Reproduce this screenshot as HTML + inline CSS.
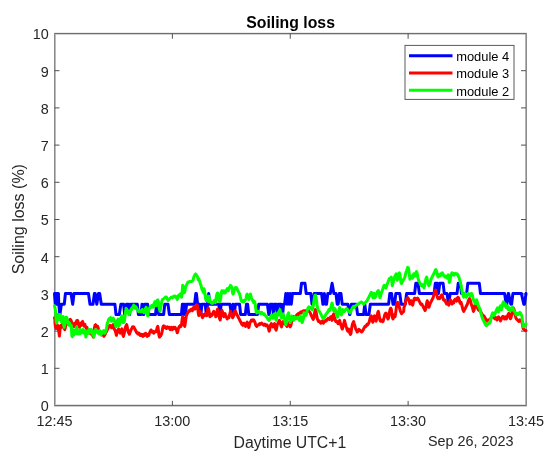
<!DOCTYPE html><html><head><meta charset="utf-8"><style>html,body{margin:0;padding:0;background:#fff;overflow:hidden}svg{display:block;will-change:transform}</style></head><body><svg width="550" height="463" viewBox="0 0 550 463">
<defs><filter id="b" x="0" y="0" width="1" height="1"><feGaussianBlur stdDeviation="0.4"/></filter></defs>
<rect width="550" height="463" fill="#fff"/>
<g filter="url(#b)">
<rect x="54" y="33" width="473" height="1" fill="#6e6e6e"/>
<rect x="54" y="34" width="473" height="1" fill="#d2d2d2"/>
<rect x="54" y="32" width="473" height="1" fill="#ececec"/>
<rect x="54" y="405" width="473" height="1" fill="#6e6e6e"/>
<rect x="54" y="406" width="473" height="1" fill="#cfcfcf"/>
<rect x="54" y="404" width="473" height="1" fill="#e2e2e2"/>
<rect x="54" y="33" width="1" height="373" fill="#888888"/>
<rect x="55" y="34" width="1" height="371" fill="#bcbcbc"/>
<rect x="526" y="33" width="1" height="373" fill="#8c8c8c"/>
<rect x="525" y="34" width="1" height="371" fill="#b4b4b4"/>
<path d="M54.5,368.30h5.0M526.0,368.30h-5.0M54.5,331.10h5.0M526.0,331.10h-5.0M54.5,293.90h5.0M526.0,293.90h-5.0M54.5,256.70h5.0M526.0,256.70h-5.0M54.5,219.50h5.0M526.0,219.50h-5.0M54.5,182.30h5.0M526.0,182.30h-5.0M54.5,145.10h5.0M526.0,145.10h-5.0M54.5,107.90h5.0M526.0,107.90h-5.0M54.5,70.70h5.0M526.0,70.70h-5.0M172.38,405.5v-4.6M172.38,33.5v5.2M290.25,405.5v-4.6M290.25,33.5v5.2M408.12,405.5v-4.6M408.12,33.5v5.2" stroke="#505050" stroke-width="1" fill="none"/>
<polyline points="54.50,293.60 55.25,304.20 55.60,293.60 55.95,304.20 56.30,293.60 56.65,304.20 57.00,293.60 57.35,304.20 57.70,293.60 58.05,304.20 58.40,293.60 58.75,304.20 59.90,314.50 61.40,304.20 64.30,304.20 65.40,293.60 71.00,293.60 72.70,304.20 74.00,293.60 88.50,293.60 90.00,304.20 93.00,304.20 94.40,293.60 95.20,293.60 96.80,304.20 98.50,293.60 99.70,293.60 101.30,304.20 114.90,304.20 116.00,314.50 119.30,314.50 120.90,304.20 123.60,304.20 124.70,314.50 126.40,304.20 128.50,304.20 129.60,314.50 130.70,304.20 137.30,304.20 138.40,314.50 141.00,314.50 142.00,304.20 142.20,304.20 143.20,314.50 143.80,314.50 144.80,304.20 147.60,304.20 148.80,314.50 155.50,314.50 156.60,304.20 157.60,304.20 158.80,314.50 163.60,314.50 164.80,304.20 168.00,304.20 169.40,314.50 181.40,314.50 182.40,304.20 183.00,314.50 183.60,304.20 184.20,314.50 184.80,304.20 185.40,314.50 186.60,304.20 194.60,304.20 195.80,293.60 196.40,293.60 197.60,304.20 199.60,304.20 200.80,314.50 202.00,304.20 205.20,304.20 206.30,314.50 207.60,304.20 208.70,293.60 209.80,304.20 218.80,304.20 220.00,314.50 221.20,304.20 229.90,304.20 231.50,314.50 233.00,304.20 234.20,314.50 235.40,304.20 239.50,304.20 240.70,314.50 245.30,314.50 246.50,304.20 247.60,304.20 248.80,314.50 257.40,314.50 258.80,304.20 267.40,304.20 268.80,314.50 269.20,314.50 270.40,304.20 272.40,304.20 273.40,314.50 274.40,304.20 276.40,304.20 277.40,314.50 278.40,304.20 281.00,304.20 282.20,314.50 282.60,314.50 283.60,304.20 284.60,304.20 285.80,293.60 286.90,304.20 288.00,293.60 289.10,304.20 290.20,293.60 291.30,304.20 292.40,293.60 293.40,293.60 300.30,293.60 301.50,283.30 305.00,283.30 306.20,293.60 310.80,293.60 312.00,304.20 313.00,304.20 314.20,293.60 321.60,293.60 322.90,304.20 323.30,304.20 324.40,293.60 325.90,304.20 326.50,304.20 327.80,293.60 330.30,293.60 332.10,283.30 333.90,293.60 336.00,293.60 337.20,304.20 338.20,304.20 339.20,293.60 341.00,293.60 342.20,304.20 347.80,304.20 349.60,314.50 349.90,314.50 351.30,304.20 356.20,304.20 357.60,314.50 363.60,314.50 364.80,304.20 366.00,314.50 368.90,314.50 370.30,304.20 388.60,304.20 389.80,293.60 391.60,293.60 393.00,304.20 394.60,304.20 395.80,293.60 399.80,293.60 401.20,304.20 405.20,304.20 406.60,293.60 414.60,293.60 415.80,283.30 418.00,283.30 419.40,293.60 434.10,293.60 435.30,283.30 437.20,283.30 438.40,293.60 439.80,283.30 443.10,283.30 444.30,293.60 447.00,293.60 448.60,304.20 450.20,293.60 457.00,293.60 458.20,283.30 460.30,283.30 461.50,293.60 466.60,293.60 467.80,283.30 479.30,283.30 480.50,293.60 504.60,293.60 506.20,304.20 506.80,304.20 508.20,293.60 508.60,293.60 510.80,304.20 511.60,304.20 512.90,293.60 521.40,293.60 523.80,304.20 524.40,304.20 526.00,293.60" fill="none" stroke="#0000ff" stroke-width="3.0" stroke-linejoin="round" stroke-linecap="round"/>
<polyline points="54.50,317.68 54.90,319.84 55.08,324.16 55.62,327.40 56.16,328.48 56.70,326.32 57.24,327.40 57.78,325.24 58.32,327.40 58.86,331.72 59.40,336.04 59.94,330.64 60.48,326.32 61.02,325.24 61.56,327.40 62.10,326.32 62.64,324.16 63.18,325.24 63.72,327.40 64.26,328.48 64.80,329.56 65.34,327.40 65.88,324.16 66.42,322.00 66.96,320.92 67.50,323.08 68.04,324.16 68.58,322.00 69.12,320.92 69.66,319.84 70.20,319.30 70.74,319.84 71.28,320.92 71.82,323.08 72.36,323.08 72.90,324.16 73.44,325.24 73.98,326.32 74.52,324.16 75.06,323.08 75.60,326.32 76.14,323.08 76.68,320.92 77.22,320.38 77.76,320.92 78.30,323.08 78.84,325.24 79.38,327.40 79.92,326.32 80.46,324.16 81.00,323.08 81.54,325.24 82.08,322.00 82.62,321.46 83.16,323.08 83.70,324.16 84.24,326.32 84.78,324.16 85.32,326.32 85.86,327.40 86.40,328.48 86.94,327.40 87.48,329.56 88.02,330.64 88.56,331.72 89.10,332.80 89.64,331.72 90.18,332.80 90.72,333.88 91.26,332.80 91.80,331.72 92.34,333.88 92.88,336.04 93.42,337.12 93.96,333.88 94.50,327.40 95.04,325.24 95.58,324.70 96.12,325.78 96.66,326.32 97.20,327.40 97.74,326.32 98.28,328.48 98.82,330.64 99.36,331.72 99.90,332.80 100.44,333.88 100.98,332.80 101.52,333.88 102.06,334.96 102.60,334.42 103.14,333.88 103.68,332.80 104.00,336.44 104.54,335.36 105.08,334.28 105.62,333.20 106.16,332.12 106.70,331.04 107.24,329.96 107.78,328.88 108.32,327.80 108.86,326.72 109.40,325.64 109.94,326.72 110.48,325.64 111.02,326.72 111.56,327.80 112.10,326.72 112.64,325.64 113.18,324.56 113.72,326.72 114.26,328.88 114.80,329.96 115.34,331.04 115.88,333.20 116.42,335.36 116.96,333.20 117.50,331.04 118.04,329.96 118.58,328.88 119.12,329.96 119.66,332.12 120.20,333.20 120.74,331.04 121.28,329.96 121.82,328.88 122.36,332.12 122.90,335.36 123.44,336.44 123.98,334.28 124.52,332.12 125.06,328.88 125.60,326.72 126.14,325.64 126.68,324.56 127.22,326.72 127.76,329.96 128.30,332.12 128.84,333.20 129.38,334.28 129.92,333.20 130.46,331.04 131.00,329.96 131.54,328.88 132.08,327.80 132.62,326.72 133.16,327.26 133.70,326.72 134.24,327.80 134.78,328.88 135.32,329.96 135.86,331.04 136.40,332.12 136.94,333.20 137.48,332.66 138.02,333.20 138.56,334.28 139.10,333.20 139.64,334.28 140.18,335.36 140.72,334.28 141.26,335.36 141.80,334.28 142.34,335.36 142.88,336.44 143.42,335.36 143.96,334.28 144.50,335.36 145.04,334.28 145.58,333.20 146.12,334.28 146.66,335.36 147.20,336.44 147.74,335.36 148.28,334.28 148.82,335.36 149.36,333.20 149.90,332.12 150.44,331.04 150.98,329.96 151.52,331.04 152.06,332.12 152.60,331.04 153.14,332.12 153.68,333.20 154.00,332.80 154.54,332.26 155.08,331.72 155.62,331.18 156.16,331.72 156.70,329.56 157.24,327.40 157.78,326.32 158.32,329.56 158.86,334.96 159.40,337.12 159.94,336.58 160.48,336.04 161.02,334.96 161.56,333.88 162.10,331.72 162.64,328.48 163.18,326.32 163.72,325.78 164.26,326.32 164.80,327.40 165.34,326.86 165.88,327.40 166.42,328.48 166.96,327.40 167.50,326.86 168.04,327.40 168.58,327.94 169.12,327.40 169.66,328.48 170.20,329.56 170.74,328.48 171.28,327.40 171.82,328.48 172.36,329.56 172.90,328.48 173.44,327.40 173.98,327.94 174.52,328.48 175.06,327.40 175.60,328.48 176.14,329.56 176.68,330.64 177.22,332.80 177.76,331.72 178.30,328.48 178.84,327.40 179.38,326.32 179.92,326.86 180.46,325.24 181.00,326.32 181.54,324.16 182.08,319.84 182.62,316.60 183.16,317.68 183.70,322.00 184.24,325.24 184.78,326.32 185.32,323.08 185.86,318.76 186.40,315.52 186.94,314.44 187.48,313.36 188.02,312.28 188.56,311.20 189.10,310.66 189.64,311.20 190.18,310.12 190.72,309.58 191.26,309.04 191.80,310.12 192.34,310.66 192.88,309.04 193.42,307.96 193.96,306.88 194.50,307.96 195.04,309.04 195.58,306.88 196.12,305.26 196.66,304.72 197.20,305.26 197.74,307.96 198.28,313.36 198.82,315.52 199.36,313.36 199.90,311.20 200.44,312.28 200.98,313.36 201.52,314.44 202.06,316.60 202.60,317.68 203.14,315.52 203.68,314.44 204.00,314.56 204.54,315.64 205.08,314.56 205.62,313.48 206.16,314.56 206.70,315.64 207.24,312.40 207.78,309.16 208.32,308.08 208.86,310.24 209.40,313.48 209.94,316.72 210.48,315.64 211.02,314.56 211.56,315.64 212.10,314.56 212.64,313.48 213.18,312.40 213.72,311.32 214.26,312.40 214.80,314.56 215.34,315.64 215.88,316.72 216.42,314.56 216.96,311.32 217.50,309.16 218.04,310.24 218.58,313.48 219.12,316.72 219.66,318.88 220.20,319.96 220.74,316.72 221.28,312.40 221.82,310.24 222.36,311.32 222.90,313.48 223.44,315.64 223.98,316.72 224.52,314.56 225.06,313.48 225.60,315.64 226.14,316.72 226.68,317.80 227.22,318.88 227.76,317.80 228.30,316.72 228.84,317.80 229.38,315.64 229.92,313.48 230.46,311.32 231.00,312.40 231.54,314.56 232.08,315.64 232.62,317.80 233.16,316.72 233.70,315.64 234.24,313.48 234.78,311.32 235.32,310.78 235.86,312.40 236.40,313.48 236.94,314.56 237.48,315.64 238.02,316.72 238.56,317.80 239.10,318.88 239.64,319.96 240.18,321.04 240.72,322.12 241.26,323.20 241.80,324.28 242.34,323.20 242.88,325.36 243.42,324.28 243.96,323.20 244.50,324.28 245.04,325.36 245.58,326.44 246.12,325.36 246.66,323.20 247.20,322.12 247.74,324.28 248.28,326.44 248.82,327.52 249.36,325.36 249.90,323.20 250.44,322.12 250.98,321.04 251.52,319.96 252.06,321.04 252.60,319.96 253.14,320.50 253.68,319.96 254.00,320.40 254.54,321.48 255.08,322.56 255.62,324.72 256.16,325.80 256.70,326.34 257.24,325.80 257.78,325.26 258.32,324.72 258.86,324.18 259.40,324.72 259.94,323.64 260.48,324.18 261.02,323.64 261.56,323.10 262.10,323.64 262.64,324.18 263.18,324.72 263.72,325.26 264.26,324.72 264.80,324.18 265.34,324.72 265.88,325.80 266.42,325.26 266.96,324.72 267.50,325.80 268.04,326.88 268.58,329.04 269.12,331.20 269.66,330.12 270.20,326.88 270.74,324.72 271.28,323.64 271.82,324.72 272.36,325.80 272.90,326.88 273.44,325.80 273.98,324.72 274.52,323.64 275.06,325.80 275.60,329.04 276.14,330.12 276.68,327.96 277.22,324.72 277.76,323.64 278.30,322.56 278.84,321.48 279.38,320.40 279.92,321.48 280.46,323.64 281.00,325.80 281.54,326.88 282.08,324.72 282.62,322.56 283.16,321.48 283.70,322.56 284.24,323.64 284.78,323.10 285.32,323.64 285.86,324.72 286.40,325.80 286.94,326.34 287.48,325.80 288.02,324.72 288.56,323.64 289.10,322.56 289.64,324.72 290.18,326.88 290.72,325.80 291.26,323.64 291.80,320.40 292.34,318.24 292.88,317.16 293.42,316.62 293.96,317.16 294.50,318.24 295.04,317.70 295.58,317.16 296.12,316.08 296.66,315.00 297.20,314.46 297.74,315.00 298.28,313.92 298.82,313.38 299.36,313.92 299.90,312.84 300.44,312.30 300.98,311.76 301.52,312.84 302.06,311.76 302.60,311.22 303.14,311.76 303.68,310.68 308.32,310.68 308.86,311.22 309.40,311.76 309.94,312.30 310.48,313.38 311.02,315.00 311.56,316.08 312.10,317.16 312.64,318.24 313.18,319.32 313.72,318.24 314.26,315.00 314.80,311.76 315.34,309.60 315.88,310.68 316.42,313.92 316.96,317.16 317.50,319.32 318.04,320.40 318.58,321.48 319.12,320.94 319.66,321.48 320.20,322.56 320.74,323.10 321.28,322.56 321.82,321.48 322.36,320.94 322.90,322.56 323.44,323.10 323.98,322.02 324.52,320.94 325.06,321.48 325.60,320.40 326.14,320.94 326.68,320.40 327.22,319.32 327.76,318.78 328.30,318.24 328.84,318.78 329.38,319.32 329.92,318.24 330.46,317.16 331.00,316.62 331.54,318.24 332.08,320.40 332.62,318.24 333.16,315.00 333.70,313.92 334.24,316.08 334.78,318.24 335.32,320.40 335.86,321.48 336.40,320.94 336.94,321.48 337.48,322.56 338.02,323.64 338.56,322.56 339.10,321.48 339.64,320.40 340.18,322.56 340.72,324.72 341.26,325.80 341.80,327.96 342.34,329.04 342.88,326.88 343.42,324.72 343.96,322.56 344.50,320.40 345.04,322.56 345.58,324.72 346.12,326.88 346.66,327.96 347.20,330.12 347.74,331.20 348.28,330.12 348.82,329.04 349.36,331.20 349.90,333.36 350.44,334.44 350.98,333.36 351.52,329.04 352.06,325.80 352.60,323.64 353.14,322.56 353.68,321.48 354.00,323.32 354.54,324.40 355.08,326.56 355.62,328.72 356.16,329.80 356.70,330.88 357.24,331.96 357.78,331.42 358.32,329.80 358.86,329.26 359.40,329.80 359.94,330.34 360.48,330.88 361.02,331.42 361.56,331.96 362.10,331.42 362.64,330.88 363.18,329.80 363.72,328.72 364.26,327.64 364.80,326.56 365.34,326.02 365.88,326.56 366.42,325.48 366.96,324.40 367.50,324.94 368.04,324.40 368.58,323.32 369.12,322.24 369.66,320.08 370.20,317.92 370.74,316.84 371.28,315.76 371.82,317.92 372.36,321.16 372.90,322.24 373.44,320.08 373.98,316.84 374.52,315.76 375.06,317.92 375.60,320.08 376.14,321.16 376.68,319.00 377.22,315.76 377.76,312.52 378.30,311.44 378.84,313.60 379.38,316.84 379.92,320.08 380.46,321.16 381.00,320.62 381.54,320.08 382.08,321.16 382.62,321.70 383.16,321.16 383.70,319.00 384.24,316.84 384.78,314.68 385.32,313.60 385.86,313.06 386.40,313.60 386.94,315.76 387.48,317.92 388.02,319.00 388.56,317.92 389.10,314.68 389.64,311.44 390.18,309.28 390.72,308.20 391.26,309.28 391.80,312.52 392.34,316.84 392.88,319.00 393.42,317.92 393.96,315.76 394.50,314.68 395.04,316.84 395.58,313.60 396.12,309.28 396.66,304.96 397.20,302.80 397.74,302.26 398.28,302.80 398.82,304.96 399.36,307.12 399.90,309.28 400.44,311.44 400.98,312.52 401.52,313.60 402.06,313.06 402.60,312.52 403.14,311.98 403.68,311.44 404.00,307.28 404.54,306.20 405.08,304.04 405.62,301.88 406.16,299.72 406.70,298.64 407.24,298.10 407.78,297.56 408.32,298.64 408.86,299.72 409.40,301.88 409.94,304.04 410.48,302.96 411.02,300.80 411.56,301.88 412.10,304.04 412.64,305.12 413.18,302.96 413.72,300.26 414.26,298.64 414.80,298.10 415.34,299.18 415.88,299.72 416.42,299.18 416.96,298.64 417.50,298.10 418.04,298.64 418.58,299.72 419.12,300.80 419.66,301.88 420.20,302.96 420.74,304.04 421.28,304.58 421.82,304.04 422.36,305.12 422.90,306.20 423.44,307.28 423.98,308.36 424.52,309.44 425.06,310.52 425.60,309.44 426.14,306.20 426.68,302.96 427.22,300.80 427.76,301.88 428.30,305.12 428.84,307.28 429.38,306.20 429.92,304.04 430.46,302.96 431.00,301.88 431.54,300.80 432.08,299.72 432.62,298.64 433.16,297.56 433.70,295.40 434.24,293.24 434.78,291.08 435.32,290.00 435.86,291.08 436.40,293.24 436.94,295.40 437.48,297.56 438.02,298.64 438.56,298.10 439.10,297.56 439.64,298.64 440.18,297.56 440.72,296.48 441.26,295.40 441.80,294.86 442.34,295.40 442.88,297.56 443.42,299.72 443.96,300.26 444.50,299.72 445.04,300.80 445.58,301.88 446.12,302.96 446.66,304.04 447.20,303.50 447.74,302.96 448.28,304.04 448.82,305.12 449.36,302.96 449.90,300.80 450.44,299.72 450.98,300.80 451.52,301.88 452.06,304.04 452.60,302.96 453.14,301.88 453.68,302.96 454.00,301.09 454.65,299.79 455.30,299.15 455.94,299.79 456.59,301.09 457.24,298.50 457.89,297.20 458.53,297.85 459.18,299.79 459.83,302.38 460.48,303.68 461.12,302.38 461.77,304.97 462.42,307.56 463.07,310.16 463.72,311.45 464.36,310.16 465.01,308.86 465.66,307.56 466.31,306.27 466.95,304.97 467.60,303.68 468.25,301.09 468.90,299.79 469.54,298.50 470.19,299.79 470.84,302.38 471.49,304.97 472.13,306.27 472.78,308.86 473.43,311.45 474.08,310.16 474.73,306.27 475.37,303.68 476.02,304.97 476.67,306.27 477.32,307.56 477.96,308.86 478.61,310.16 479.26,308.86 479.91,310.16 480.55,311.45 481.20,312.75 481.85,314.04 482.50,314.69 483.15,315.34 483.79,315.98 484.44,316.63 485.09,317.93 485.74,319.22 486.38,320.52 487.03,321.17 487.68,320.52 488.33,319.87 488.97,320.52 489.62,321.81 490.27,320.52 490.92,317.93 491.56,316.63 492.21,315.98 492.86,315.34 493.51,316.63 494.16,317.93 494.80,318.58 495.45,317.28 496.00,318.83 496.50,319.33 496.99,319.82 497.49,318.83 497.99,317.84 498.49,316.84 498.98,317.34 499.48,318.83 499.98,319.82 500.47,320.82 500.97,319.82 501.47,318.83 501.96,317.84 502.46,316.84 502.96,316.35 503.46,316.84 503.95,317.84 504.45,318.83 504.95,317.84 505.44,316.84 505.94,317.84 506.44,318.83 506.94,317.84 507.43,315.85 507.93,314.85 508.43,313.86 508.92,313.36 509.42,314.85 509.92,316.84 510.42,318.83 510.91,317.84 511.41,315.85 511.91,313.86 512.40,311.87 512.90,309.88 513.40,307.89 513.89,308.89 514.39,310.88 514.89,313.86 515.39,315.85 515.88,317.84 516.38,318.83 516.88,319.33 517.37,319.82 517.87,320.32 518.37,320.82 518.87,321.32 519.36,320.82 519.86,319.82 520.36,320.32 520.85,320.82 521.35,321.32 521.85,321.81 522.35,323.80 522.84,326.78 523.34,328.77 523.84,329.27 524.33,329.77 524.83,330.26 525.33,330.76 526.00,330.56" fill="none" stroke="#ff0000" stroke-width="3.0" stroke-linejoin="round" stroke-linecap="round"/>
<polyline points="54.50,305.80 55.62,311.20 56.16,320.92 56.70,323.08 57.24,316.60 57.78,314.44 58.32,319.84 58.86,315.52 59.40,317.68 59.94,314.44 60.48,319.84 61.02,316.60 61.56,322.00 62.10,317.68 62.64,320.92 63.18,316.60 63.72,325.24 64.26,327.40 64.80,323.08 65.34,319.84 65.88,317.68 66.42,317.14 66.96,318.22 67.50,320.92 68.04,324.16 68.58,322.00 69.12,325.24 69.66,323.08 70.20,325.24 70.74,326.32 71.28,325.24 71.82,335.50 72.36,336.58 72.90,329.56 73.44,330.64 73.98,334.96 74.52,331.72 75.06,332.80 75.60,329.56 76.14,333.34 76.68,326.86 77.22,333.88 77.76,332.80 78.30,330.64 78.84,333.88 79.38,331.72 79.92,333.88 80.46,329.56 81.00,332.80 81.54,330.64 82.08,332.80 82.62,331.72 83.16,329.56 83.70,332.80 84.24,330.64 84.78,333.88 85.32,330.64 85.86,337.12 86.40,332.80 86.94,331.72 87.48,333.88 88.02,330.64 88.56,332.80 89.10,329.56 89.64,331.72 90.18,330.64 90.72,332.80 91.26,329.56 91.80,332.80 92.34,330.64 92.88,334.96 93.42,331.72 93.96,337.12 94.50,333.88 95.04,331.72 95.58,329.56 96.12,330.64 96.66,331.72 97.20,330.64 97.74,332.80 98.28,331.72 98.82,333.88 99.36,332.80 99.90,330.64 100.44,332.80 100.98,334.96 101.52,333.88 102.06,331.72 102.60,332.80 103.14,331.72 103.68,330.64 104.00,332.12 104.54,333.20 105.08,332.66 105.62,331.04 106.16,329.96 106.70,326.72 107.24,323.48 107.78,322.40 108.32,320.24 108.86,319.16 109.40,318.62 109.94,318.08 110.48,317.54 111.02,319.16 111.56,321.32 112.10,320.24 112.64,319.16 113.18,318.08 113.72,319.16 114.26,320.24 114.80,322.40 115.34,324.56 115.88,326.72 116.42,325.64 116.96,322.40 117.50,320.24 118.04,319.16 118.58,322.40 119.12,325.64 119.66,324.56 120.20,320.24 120.74,318.08 121.28,317.00 121.82,315.92 122.36,319.16 122.90,322.40 123.44,320.24 123.98,322.40 124.52,320.24 125.06,315.92 125.60,311.60 126.14,308.36 126.68,309.44 127.22,311.60 127.76,310.52 128.30,312.68 128.84,314.84 129.38,313.76 129.92,311.60 130.46,310.52 131.00,309.44 131.54,308.36 132.08,309.44 132.62,307.28 133.16,306.20 133.70,305.12 134.24,306.20 134.78,307.28 135.32,308.36 135.86,306.74 136.40,307.28 136.94,308.90 137.48,309.44 138.02,310.52 138.56,311.60 139.10,311.06 139.64,310.52 140.18,311.06 140.72,311.60 141.26,310.52 141.80,311.60 142.34,309.44 142.88,310.52 143.42,311.60 143.96,312.68 144.50,311.60 145.04,310.52 145.58,308.36 146.12,307.28 146.66,309.44 147.20,313.76 147.74,315.92 148.28,312.68 148.82,309.44 149.36,308.36 149.90,307.28 150.44,307.82 150.98,306.20 151.52,305.66 152.06,306.20 152.60,305.66 153.14,307.28 153.68,305.12 154.00,303.64 154.54,302.56 155.08,301.48 155.62,303.64 156.16,305.80 156.70,302.56 157.24,300.40 157.78,299.86 158.32,301.48 158.86,305.80 159.40,309.04 159.94,311.20 160.48,309.04 161.02,305.80 161.56,302.56 162.10,300.40 162.64,299.32 163.18,299.32 163.72,298.78 164.26,298.24 164.80,297.70 165.34,297.16 165.88,297.70 166.42,297.16 166.96,298.24 167.50,299.32 168.04,300.40 168.58,299.86 169.12,299.32 169.66,298.78 170.20,298.24 170.74,297.70 171.28,297.16 171.82,297.16 172.36,297.70 172.90,297.16 173.44,296.62 173.98,296.08 174.52,296.62 175.06,296.08 175.60,297.16 176.14,296.62 176.68,298.24 177.22,299.32 177.76,298.24 178.30,296.08 178.84,295.00 179.38,295.54 179.92,295.00 180.46,293.92 181.00,296.08 181.54,297.16 182.08,293.92 182.62,285.28 183.16,286.36 183.70,289.60 184.24,292.84 184.78,291.76 185.32,288.52 185.86,286.36 186.40,285.28 186.94,284.20 187.48,283.12 188.02,282.04 188.56,282.04 189.64,281.50 190.72,281.50 191.80,281.50 192.88,280.42 193.42,278.80 193.96,276.64 194.50,275.56 195.04,274.48 195.58,273.94 196.12,274.48 196.66,275.56 197.20,276.10 197.74,277.72 198.28,279.88 198.82,278.80 199.36,280.42 199.90,282.04 200.44,284.20 200.98,285.28 201.52,287.44 202.06,289.60 202.60,290.68 203.14,291.76 203.68,292.84 204.00,288.64 204.54,290.80 205.08,295.12 205.62,298.36 206.16,300.52 206.70,299.44 207.24,296.20 207.78,298.36 208.32,301.60 208.86,296.20 209.40,298.36 209.94,300.52 210.48,301.60 211.02,302.68 211.56,303.22 212.10,302.68 212.64,303.22 213.18,302.68 213.72,301.60 214.26,300.52 214.80,301.60 215.34,302.68 215.88,300.52 216.42,296.20 216.96,294.04 217.50,292.96 218.04,294.04 218.58,297.28 219.12,300.52 219.66,301.60 220.20,300.52 220.74,298.36 221.28,292.96 221.82,290.80 222.36,291.88 222.90,292.96 223.44,291.88 223.98,290.80 224.52,291.88 225.06,292.96 225.60,291.88 226.14,290.80 226.68,289.72 227.22,288.64 227.76,289.72 228.30,290.80 228.84,288.64 229.38,287.56 229.92,286.48 230.46,285.40 231.00,285.94 231.54,286.48 232.08,288.64 232.62,292.96 233.16,294.04 233.70,291.88 234.24,289.72 234.78,288.64 235.32,287.56 235.86,288.10 236.40,287.56 236.94,288.64 237.48,289.72 238.02,290.80 238.56,291.88 239.10,292.96 239.64,294.04 240.18,296.20 240.72,298.36 241.26,300.52 241.80,301.60 242.34,301.06 242.88,301.60 243.42,300.52 243.96,301.60 244.50,301.06 245.04,300.52 245.58,299.44 246.12,298.36 246.66,295.12 247.20,294.04 247.74,296.20 248.28,298.36 248.82,299.44 249.36,296.20 249.90,295.12 250.44,294.04 250.98,296.20 251.52,298.36 252.06,299.44 252.60,300.52 253.14,301.60 253.68,302.68 254.00,300.96 254.54,302.04 255.08,303.12 255.62,307.44 256.16,311.76 256.70,312.84 257.24,311.76 257.78,311.22 258.32,312.30 258.86,311.76 259.40,312.30 259.94,312.84 260.48,313.92 261.02,312.84 261.56,312.30 262.10,312.84 262.64,313.38 263.18,313.92 263.72,314.46 264.26,313.92 264.80,315.00 265.34,315.54 265.88,316.08 266.42,316.62 266.96,317.16 267.50,318.24 268.04,319.32 268.58,319.86 269.12,320.40 269.66,319.32 270.20,318.24 270.74,317.16 271.28,315.54 271.82,315.00 272.36,316.62 272.90,318.24 273.44,316.08 273.98,314.46 274.52,313.92 275.06,316.08 275.60,318.24 276.14,320.40 276.68,317.16 277.22,313.92 277.76,312.84 278.30,315.00 278.84,313.92 279.38,310.68 279.92,309.60 280.46,311.76 281.00,316.08 281.54,318.24 282.08,317.16 282.62,315.00 283.16,313.92 283.70,316.08 284.24,318.24 284.78,320.40 285.32,322.56 285.86,324.72 286.40,321.48 286.94,318.24 287.48,316.08 288.02,313.92 288.56,312.84 289.10,316.08 289.64,319.32 290.18,322.56 290.72,320.40 291.26,318.24 291.80,316.08 292.34,317.16 292.88,319.32 293.42,320.40 293.96,319.32 294.50,318.24 295.04,317.16 295.58,317.70 296.12,318.78 296.66,318.24 297.20,317.70 297.74,317.16 298.28,318.24 298.82,319.32 299.36,320.40 299.90,318.24 300.44,316.08 300.98,317.16 301.52,320.40 302.06,322.56 302.60,321.48 303.14,319.32 303.68,317.16 304.00,312.84 304.54,313.92 305.08,315.00 305.62,315.54 306.16,315.00 306.70,312.84 307.24,310.68 307.78,308.52 308.32,307.44 308.86,306.90 309.40,307.44 309.94,308.52 310.48,307.98 311.02,307.44 311.56,308.52 312.10,309.60 312.64,308.52 313.18,306.36 313.72,303.12 314.26,298.80 314.80,295.56 315.34,295.02 315.88,296.64 316.42,299.88 316.96,304.20 317.50,307.44 318.04,309.60 318.58,310.68 319.12,311.22 319.66,311.76 320.20,312.84 320.74,313.92 321.28,315.00 321.82,316.08 322.36,317.16 322.90,318.24 323.44,318.78 323.98,318.24 324.52,317.16 325.06,316.08 325.60,315.00 326.14,313.92 326.68,313.38 327.22,312.84 327.76,311.76 328.30,310.68 328.84,309.60 329.38,310.68 329.92,309.60 330.46,308.52 331.00,307.44 331.54,304.20 332.08,303.12 332.62,305.28 333.16,308.52 333.70,310.68 334.24,309.60 334.78,308.52 335.32,309.60 335.86,311.76 336.40,313.92 336.94,316.08 337.48,317.16 338.02,315.00 338.56,311.76 339.10,309.60 339.64,307.44 340.18,309.60 340.72,312.84 341.26,315.00 341.80,313.92 342.34,311.76 342.88,309.60 343.42,310.68 343.96,311.76 344.50,311.22 345.04,310.14 345.58,309.60 346.12,309.06 346.66,308.52 347.20,309.06 347.74,309.60 348.28,310.68 348.82,311.22 349.36,311.76 349.90,312.84 350.44,312.30 350.98,311.22 351.52,309.60 352.06,308.52 352.60,307.44 353.14,306.90 353.68,306.36 354.00,307.36 355.08,306.28 356.16,305.20 357.24,304.66 358.32,304.12 359.40,303.04 360.48,302.50 361.56,301.96 362.64,303.04 363.72,304.12 364.80,303.04 365.88,301.96 366.96,300.88 367.50,299.80 368.04,298.72 368.58,297.64 369.12,296.56 369.66,295.48 370.20,294.40 370.74,293.32 371.28,292.24 371.82,293.32 372.36,295.48 372.90,297.64 373.44,294.40 373.98,293.32 374.52,295.48 375.06,297.64 375.60,296.56 376.14,294.40 376.68,293.32 377.22,292.24 377.76,291.16 378.30,290.62 378.84,292.24 379.38,295.48 379.92,297.64 380.46,296.56 381.00,294.40 381.54,292.24 382.08,291.16 382.62,289.54 383.16,287.92 383.70,286.30 384.24,285.22 384.78,285.76 385.32,286.84 385.86,287.92 386.40,286.84 386.94,284.68 387.48,283.60 388.02,281.98 388.56,280.36 389.10,279.28 389.64,278.20 390.18,279.28 390.72,278.20 391.26,277.12 391.80,281.44 392.34,285.76 392.88,283.60 393.42,281.44 393.96,279.28 394.50,277.12 395.04,276.04 395.58,274.96 396.12,273.88 396.66,276.04 397.20,280.36 397.74,278.20 398.28,274.96 398.82,273.34 399.36,272.80 399.90,273.88 400.44,278.20 400.98,282.52 401.52,283.60 402.06,282.52 402.60,281.44 403.14,280.36 403.68,279.28 404.00,279.20 404.54,278.12 405.08,275.96 405.62,273.80 406.16,271.64 406.70,270.56 407.24,268.94 407.78,267.32 408.32,267.86 408.86,270.56 409.40,274.88 409.94,279.20 410.48,278.12 411.02,277.04 411.56,275.96 412.10,277.04 412.64,278.12 413.18,275.96 413.72,273.80 414.26,274.88 414.80,275.96 415.34,274.88 415.88,272.72 416.42,271.64 416.96,272.72 417.50,274.88 418.04,278.12 418.58,280.28 419.12,281.36 419.66,282.44 420.20,283.52 420.74,284.60 421.28,285.68 421.82,285.14 422.36,284.60 422.90,285.68 423.44,286.76 423.98,287.84 424.52,285.68 425.06,282.44 425.60,280.28 426.14,278.12 426.68,277.04 427.22,279.20 427.76,282.44 428.30,284.60 428.84,285.68 429.38,284.60 429.92,283.52 430.46,281.36 431.00,279.20 431.54,278.12 432.08,277.04 432.62,275.96 433.16,274.88 433.70,273.80 434.24,272.72 434.78,271.64 435.32,270.02 435.86,269.48 436.40,270.56 436.94,272.72 437.48,274.88 438.02,277.04 438.56,275.96 439.10,274.88 439.64,275.96 440.18,274.88 440.72,273.80 441.26,274.88 441.80,273.80 442.34,272.72 442.88,273.80 443.42,274.88 443.96,275.96 444.50,276.50 445.04,277.04 445.58,275.96 446.12,276.50 446.66,277.04 447.20,278.12 447.74,275.96 448.28,274.88 448.82,278.12 449.36,282.44 449.90,281.36 450.44,277.04 450.98,274.88 451.52,273.80 452.06,272.72 452.60,273.80 453.14,274.88 453.68,273.80 454.00,275.18 454.65,273.89 455.30,273.24 455.94,273.89 456.59,274.53 457.24,273.89 457.89,275.18 458.53,276.48 459.18,277.77 459.83,280.36 460.48,282.95 461.12,285.54 461.77,289.43 462.42,293.32 463.07,295.91 463.72,297.20 464.36,295.91 465.01,293.32 465.66,294.61 466.31,297.20 466.95,295.91 467.60,294.61 468.25,293.32 468.90,293.96 469.54,294.61 470.19,295.91 470.84,294.61 471.49,293.32 472.13,294.61 472.78,297.20 473.43,299.79 474.08,301.09 474.73,302.38 475.37,303.68 476.02,301.09 476.67,299.79 477.32,302.38 477.96,304.97 478.61,306.27 479.26,307.56 479.91,308.86 480.55,311.45 481.20,314.04 481.85,316.63 482.50,318.58 483.15,319.87 483.79,321.17 484.44,322.46 485.09,323.76 485.74,325.05 486.38,325.70 487.03,325.05 487.68,324.40 488.33,323.11 488.97,322.46 489.62,323.11 490.27,321.81 490.92,319.22 491.56,316.63 492.21,314.04 492.86,312.75 493.51,314.04 494.16,315.34 494.80,314.04 495.45,312.75 496.00,310.88 496.50,309.88 496.99,308.89 497.49,307.89 497.99,309.88 498.49,311.87 498.98,309.88 499.48,307.89 499.98,306.90 500.47,305.91 500.97,307.89 501.47,309.88 501.96,306.90 502.46,304.91 502.96,302.92 503.46,301.93 503.95,303.92 504.45,305.91 504.95,304.91 505.44,303.92 505.94,305.91 506.44,307.89 506.94,306.90 507.43,305.91 507.93,307.89 508.43,309.88 508.92,308.89 509.42,307.89 509.92,308.89 510.42,310.88 510.91,309.88 511.41,308.89 511.91,307.89 512.40,306.90 512.90,307.89 513.40,309.88 513.89,310.88 514.39,311.37 514.89,311.87 515.39,312.87 515.88,314.36 516.38,314.85 516.88,313.86 517.37,313.36 517.87,313.86 518.37,314.36 518.87,313.86 519.36,312.87 519.86,312.37 520.36,312.87 520.85,313.86 521.35,314.85 521.85,315.85 522.35,319.82 522.84,324.80 523.34,326.78 523.84,325.79 524.33,324.80 524.83,325.79 525.33,324.30 526.00,323.80" fill="none" stroke="#00ff00" stroke-width="3.0" stroke-linejoin="round" stroke-linecap="round"/>
<text x="48.7" y="411.40" font-family="Liberation Sans, sans-serif" font-size="14.4" fill="#262626" text-anchor="end">0</text>
<text x="48.7" y="374.20" font-family="Liberation Sans, sans-serif" font-size="14.4" fill="#262626" text-anchor="end">1</text>
<text x="48.7" y="337.00" font-family="Liberation Sans, sans-serif" font-size="14.4" fill="#262626" text-anchor="end">2</text>
<text x="48.7" y="299.80" font-family="Liberation Sans, sans-serif" font-size="14.4" fill="#262626" text-anchor="end">3</text>
<text x="48.7" y="262.60" font-family="Liberation Sans, sans-serif" font-size="14.4" fill="#262626" text-anchor="end">4</text>
<text x="48.7" y="225.40" font-family="Liberation Sans, sans-serif" font-size="14.4" fill="#262626" text-anchor="end">5</text>
<text x="48.7" y="188.20" font-family="Liberation Sans, sans-serif" font-size="14.4" fill="#262626" text-anchor="end">6</text>
<text x="48.7" y="151.00" font-family="Liberation Sans, sans-serif" font-size="14.4" fill="#262626" text-anchor="end">7</text>
<text x="48.7" y="113.80" font-family="Liberation Sans, sans-serif" font-size="14.4" fill="#262626" text-anchor="end">8</text>
<text x="48.7" y="76.60" font-family="Liberation Sans, sans-serif" font-size="14.4" fill="#262626" text-anchor="end">9</text>
<text x="48.7" y="39.40" font-family="Liberation Sans, sans-serif" font-size="14.4" fill="#262626" text-anchor="end">10</text>
<text x="54.50" y="425.8" font-family="Liberation Sans, sans-serif" font-size="14.4" fill="#262626" text-anchor="middle">12:45</text>
<text x="172.38" y="425.8" font-family="Liberation Sans, sans-serif" font-size="14.4" fill="#262626" text-anchor="middle">13:00</text>
<text x="290.25" y="425.8" font-family="Liberation Sans, sans-serif" font-size="14.4" fill="#262626" text-anchor="middle">13:15</text>
<text x="408.12" y="425.8" font-family="Liberation Sans, sans-serif" font-size="14.4" fill="#262626" text-anchor="middle">13:30</text>
<text x="526.00" y="425.8" font-family="Liberation Sans, sans-serif" font-size="14.4" fill="#262626" text-anchor="middle">13:45</text>
<text x="289.9" y="447.6" font-family="Liberation Sans, sans-serif" font-size="15.8" fill="#262626" text-anchor="middle">Daytime UTC+1</text>
<text x="513.6" y="445.6" font-family="Liberation Sans, sans-serif" font-size="14.4" fill="#262626" text-anchor="end">Sep 26, 2023</text>
<text x="290.6" y="27.6" font-family="Liberation Sans, sans-serif" font-size="15.8" font-weight="bold" fill="#000" text-anchor="middle">Soiling loss</text>
<text transform="translate(23.8,219.2) rotate(-90)" x="0" y="0" font-family="Liberation Sans, sans-serif" font-size="16" fill="#262626" text-anchor="middle">Soiling loss (%)</text>
<rect x="405" y="45.4" width="109" height="54" fill="#fff" stroke="#5a5a5a" stroke-width="1"/>
<path d="M409,55.70H452.5" stroke="#0000ff" stroke-width="3"/>
<text x="456.2" y="61.00" font-family="Liberation Sans, sans-serif" font-size="12.9" fill="#000">module 4</text>
<path d="M409,72.95H452.5" stroke="#ff0000" stroke-width="3"/>
<text x="456.2" y="78.25" font-family="Liberation Sans, sans-serif" font-size="12.9" fill="#000">module 3</text>
<path d="M409,90.20H452.5" stroke="#00ff00" stroke-width="3"/>
<text x="456.2" y="95.50" font-family="Liberation Sans, sans-serif" font-size="12.9" fill="#000">module 2</text>
</g></svg></body></html>
